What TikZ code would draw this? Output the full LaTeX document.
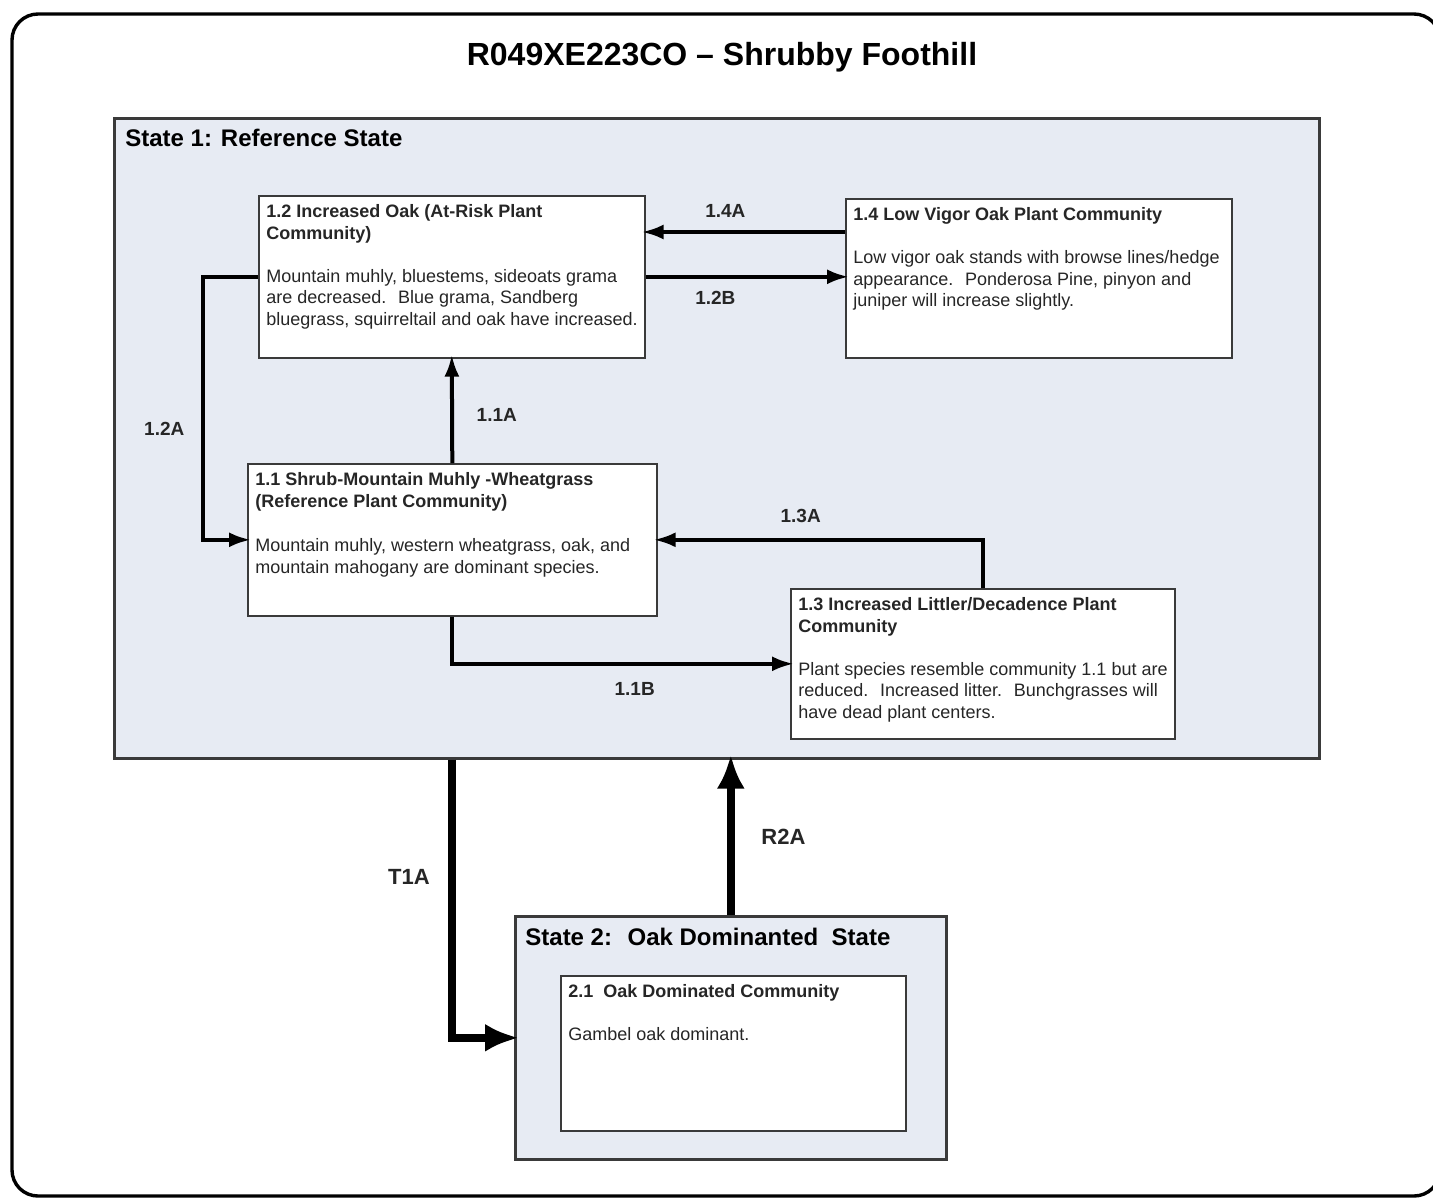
\documentclass[tikz,border=0pt]{standalone}
\usepackage{fontspec}
\setmainfont{Liberation Sans}
\usetikzlibrary{arrows.meta,calc,positioning}
\definecolor{statefill}{HTML}{E7EBF3}
\definecolor{boxline}{HTML}{3A3A3A}
\definecolor{txtgray}{HTML}{262626}
\tikzstyle{outer} = [draw=black, line width=1.7pt, rounded corners=13pt, fill=white]
\tikzstyle{statebox} = [rectangle, draw=boxline, line width=1.3pt, fill=statefill,
    anchor=north west, inner sep=0pt]
\tikzstyle{commbox} = [rectangle, draw=boxline, line width=0.8pt, fill=white,
    anchor=north west, inner sep=0pt]
\tikzstyle{commtext} = [anchor=north west, align=left, inner xsep=4pt, inner ysep=4.5pt,
    font=\fontsize{9}{10.8}\selectfont, text=txtgray]
\tikzstyle{statelabel} = [anchor=west, inner sep=0pt, font=\fontsize{12}{14}\selectfont\bfseries]
\tikzstyle{line} = [draw, line width=2pt, shorten >=-2pt, -{Latex[length=11pt,width=7.5pt]}]
\tikzstyle{bigline} = [draw, line width=4pt, shorten >=-2.5pt, -{Latex[length=17pt,width=14pt]}]
\tikzstyle{lbl} = [font=\fontsize{9.5}{11}\selectfont\bfseries, text=txtgray]
\tikzstyle{biglbl} = [font=\fontsize{11}{13}\selectfont\bfseries, text=txtgray]

\begin{document}
\begin{tikzpicture}[x=0.5pt,y=-0.5pt]
    \useasboundingbox[fill=white] (0,0) rectangle (1433,1199);
    \draw[outer] (12,14) rectangle (1440,1196);
    % Place nodes
    \node[font=\fontsize{16}{19}\selectfont\bfseries] (title) at (722,57) {R049XE223CO -- Shrubby Foothill};
    \node[statebox, minimum width=602.5pt, minimum height=320pt] (s1) at (113,117) {};
    \node[statelabel] (s1lbl) at (125,138) {State 1: Reference State};
    \node[commbox, minimum width=193pt, minimum height=81pt] (c12) at (258,195) {};
    \node[commtext] (t12) at (c12.north west) {\textbf{1.2 Increased Oak (At-Risk Plant}\\\textbf{Community)}\\[10.8pt]
        Mountain muhly, bluestems, sideoats grama\\are decreased.~ Blue grama, Sandberg\\bluegrass, squirreltail and oak have increased.};
    \node[commbox, minimum width=193pt, minimum height=79.5pt] (c14) at (845,198) {};
    \node[commtext] (t14) at (c14.north west) {\textbf{1.4 Low Vigor Oak Plant Community}\\[10.8pt]
        Low vigor oak stands with browse lines/hedge\\appearance.~ Ponderosa Pine, pinyon and\\juniper will increase slightly.};
    \node[commbox, minimum width=204.5pt, minimum height=76pt] (c11) at (247,463) {};
    \node[commtext] (t11) at (c11.north west) {\textbf{1.1 Shrub-Mountain Muhly -Wheatgrass}\\\textbf{(Reference Plant Community)}\\[11.5pt]
        Mountain muhly, western wheatgrass, oak, and\\mountain mahogany are dominant species.};
    \node[commbox, minimum width=192pt, minimum height=75pt] (c13) at (790,588) {};
    \node[commtext] (t13) at (c13.north west) {\textbf{1.3 Increased Littler/Decadence Plant}\\\textbf{Community}\\[10.8pt]
        Plant species resemble community 1.1 but are\\reduced.~ Increased litter.~ Bunchgrasses will\\have dead plant centers.};
    \node[statebox, minimum width=215.5pt, minimum height=121.5pt] (s2) at (514,915) {};
    \node[statelabel] (s2lbl) at (525,937) {State 2:~ Oak Dominanted~ State};
    \node[commbox, minimum width=172.5pt, minimum height=77.5pt] (c21) at (560,975) {};
    \node[commtext] (t21) at (c21.north west) {\textbf{2.1~ Oak Dominated Community}\\[10.8pt]
        Gambel oak dominant.};
    \coordinate (p14a) at ($(c14.north west)+(0,34)$);
    % Draw edges
    \path [line] (p14a) -- node[lbl, above=3pt, pos=0.6] {1.4A} (p14a -| c12.east);
    \path [line] (c12.east) -- node[lbl, below=3pt, pos=0.35] {1.2B} (c12.east -| c14.west);
    \path [line] (c12.west) -- ++(-55,0) |- node[lbl, left=5pt, pos=0.29] {1.2A} (c11.west);
    \path [line] (c11.north) -- node[lbl, right=8pt, pos=0.46] {1.1A} (c12.south);
    \path [line] (c13.north) |- node[lbl, above=4pt, pos=0.78] {1.3A} (c11.east);
    \path [line] (c11.south) |- node[lbl, below=5pt, pos=0.77] {1.1B} (c13.west);
    \path [bigline] (c11.south |- s1.south) |- node[biglbl, left=6pt, pos=0.21] {T1A} (s2.west);
    \path [bigline] (s2.north) -- node[biglbl, right=10pt, pos=0.5] {R2A} (s2.north |- s1.south);
\end{tikzpicture}
\end{document}
